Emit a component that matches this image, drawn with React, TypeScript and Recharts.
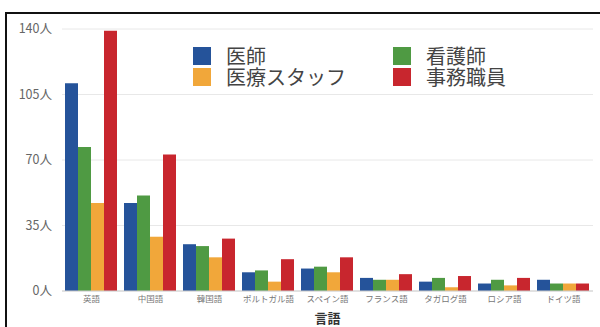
import React from "react";
import {
  BarChart,
  Bar,
  XAxis,
  YAxis,
  CartesianGrid,
  Label,
} from "recharts";

const FONT = '"Noto Sans CJK JP", "Noto Sans", sans-serif';

// languages along the x axis
const languages = [
  "英語",
  "中国語",
  "韓国語",
  "ポルトガル語",
  "スペイン語",
  "フランス語",
  "タガログ語",
  "ロシア語",
  "ドイツ語",
];

// staff counts per language
const doctors = [111, 47, 25, 10, 12, 7, 5, 4, 6];
const nurses = [77, 51, 24, 11, 13, 6, 7, 6, 4];
const medicalStaff = [47, 29, 18, 5, 10, 6, 2, 3, 4];
const officeStaff = [139, 73, 28, 17, 18, 9, 8, 7, 4];

const yTicks = [0, 35, 70, 105, 140];

const series = [
  { key: "doctors", name: "医師", color: "#25539a" },
  { key: "nurses", name: "看護師", color: "#4f9a43" },
  { key: "medicalStaff", name: "医療スタッフ", color: "#f1a73a" },
  { key: "officeStaff", name: "事務職員", color: "#c8262e" },
];

const data = languages.map((name, i) => ({
  name,
  doctors: doctors[i],
  nurses: nurses[i],
  medicalStaff: medicalStaff[i],
  officeStaff: officeStaff[i],
}));

// two-column legend: 医師 / 看護師 on top, 医療スタッフ / 事務職員 below
const LegendGrid = () => (
  <div
    style={{
      position: "absolute",
      left: 193,
      top: 45,
      display: "grid",
      gridTemplateColumns: "200px 200px",
      fontFamily: FONT,
      fontSize: 20,
      color: "#444",
    }}
  >
    {series.map((s) => (
      <div
        key={s.key}
        style={{ display: "flex", alignItems: "center", height: 21 }}
      >
        <span
          style={{
            width: 18,
            height: 18,
            background: s.color,
            marginRight: 15,
            display: "inline-block",
          }}
        />
        <span style={{ lineHeight: "21px", whiteSpace: "nowrap" }}>
          {s.name}
        </span>
      </div>
    ))}
  </div>
);

export default function App() {
  return (
    <div
      style={{
        position: "absolute",
        left: 0,
        top: 0,
        width: 600,
        height: 327,
        overflow: "hidden",
        background: "#fff",
      }}
    >
      <div
        style={{
          position: "absolute",
          left: 5,
          top: 12,
          width: 620,
          height: 340,
          border: "2px solid #111",
        }}
      />
      <div style={{ position: "absolute", left: 0, top: 0 }}>
        <BarChart
          width={600}
          height={327}
          data={data}
          margin={{ top: 29, right: 7, left: 0, bottom: 0 }}
          barCategoryGap={3}
          barGap={0}
        >
          <CartesianGrid vertical={false} stroke="#e8e8e8" />
          <XAxis
            dataKey="name"
            height={36}
            interval={0}
            tickLine={false}
            tickSize={5}
            axisLine={{ stroke: "#cfcfcf" }}
            tickMargin={0}
            tick={{ fontSize: 8.5, fill: "#777", fontFamily: FONT }}
          >
            <Label
              value="言語"
              position="insideBottom"
              offset={4}
              style={{
                fontSize: 13,
                fontWeight: "bold",
                fill: "#333",
                fontFamily: FONT,
              }}
            />
          </XAxis>
          <YAxis
            width={62}
            domain={[0, 140]}
            ticks={yTicks}
            tickFormatter={(v: number) => `${v}人`}
            axisLine={false}
            tickLine={false}
            tickMargin={4}
            tick={{ fontSize: 12.5, fill: "#666", fontFamily: FONT }}
          />
          {series.map((s) => (
            <Bar
              key={s.key}
              dataKey={s.key}
              name={s.name}
              fill={s.color}
              isAnimationActive={false}
            />
          ))}
        </BarChart>
      </div>
      <LegendGrid />
    </div>
  );
}
